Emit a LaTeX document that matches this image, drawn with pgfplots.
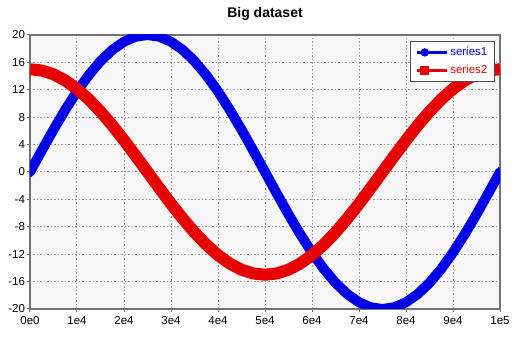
\documentclass[border=0pt]{standalone}
\usepackage{fontspec}
\setmainfont{Liberation Sans}
\usepackage{pgfplots}
\pgfplotsset{compat=1.18}
\definecolor{sblue}{RGB}{0,0,230}
\definecolor{sred}{RGB}{230,0,0}
\definecolor{bg}{RGB}{247,247,247}
\begin{document}
\begin{tikzpicture}
\begin{axis}[
  at={(0,0)}, anchor=south west,
  scale only axis, width=470pt, height=274pt,
  xmin=0, xmax=100000, ymin=-20, ymax=20,
  xtick={0,10000,...,100000},
  xticklabels={0e0,1e4,2e4,3e4,4e4,5e4,6e4,7e4,8e4,9e4,1e5},
  ytick={-20,-16,...,20},
  yticklabels={-20,-16,-12,-8,-4,0,4,8,12,16,20},
  scaled x ticks=false,
  tick pos=left, tick align=outside, major tick length=3pt,
  tick style={gray!90!black, line width=1pt},
  axis line style={gray!90!black, line width=1.5pt},
  axis background/.style={fill=bg},
  grid=major,
  major grid style={gray!80, line width=1pt, dash pattern=on 1.5pt off 2pt},
  ticklabel style={font=\fontsize{11.5}{12}\selectfont},
  xticklabel style={yshift=-1pt},
  yticklabel style={xshift=1.5pt},
  title={Big dataset},
  title style={font=\bfseries\fontsize{14}{14}\selectfont, yshift=5pt},
  legend style={at={(0.989,0.978)}, anchor=north east, draw=gray!60!black, line width=1pt, fill=white,
    font=\fontsize{11.5}{12}\selectfont, inner xsep=5pt, inner ysep=4pt, row sep=4pt},
  legend cell align=left,
]
\addplot[sblue, line width=10pt, line join=round, line cap=round,
  legend image code/.code={\draw[sblue, line width=3pt, line cap=butt] (0pt,0pt) -- (30pt,0pt); \fill[sblue, draw=none] (8pt,0pt) circle (4.2pt);}]
  table {
x y
0 0
2500 3.129
5000 6.180
7500 9.080
10000 11.756
12500 14.142
15000 16.180
17500 17.820
20000 19.021
22500 19.754
25000 20
27500 19.754
30000 19.021
32500 17.820
35000 16.180
37500 14.142
40000 11.756
42500 9.080
45000 6.180
47500 3.129
50000 0
52500 -3.129
55000 -6.180
57500 -9.080
60000 -11.756
62500 -14.142
65000 -16.180
67500 -17.820
70000 -19.021
72500 -19.754
75000 -20
77500 -19.754
80000 -19.021
82500 -17.820
85000 -16.180
87500 -14.142
90000 -11.756
92500 -9.080
95000 -6.180
97500 -3.129
100000 0
};
\addlegendentry{\textcolor{sblue}{series1}}
\addplot[sred, line width=12pt, line join=round, line cap=butt,
  legend image code/.code={\draw[sred, line width=3pt, line cap=butt] (0pt,0pt) -- (30pt,0pt); \fill[sred, draw=none] (3.5pt,-4.5pt) rectangle (12.5pt,4.5pt);}]
  table {
x y
0 15
2500 14.815
5000 14.266
7500 13.365
10000 12.135
12500 10.607
15000 8.817
17500 6.810
20000 4.635
22500 2.346
25000 0
27500 -2.346
30000 -4.635
32500 -6.810
35000 -8.817
37500 -10.607
40000 -12.135
42500 -13.365
45000 -14.266
47500 -14.815
50000 -15
52500 -14.815
55000 -14.266
57500 -13.365
60000 -12.135
62500 -10.607
65000 -8.817
67500 -6.810
70000 -4.635
72500 -2.346
75000 0
77500 2.346
80000 4.635
82500 6.810
85000 8.817
87500 10.607
90000 12.135
92500 13.365
95000 14.266
97500 14.815
100000 15
};
\addlegendentry{\textcolor{sred}{series2}}
\end{axis}
\path[use as bounding box] (-30pt,-30pt) rectangle (500pt,309pt);
\end{tikzpicture}
\end{document}
